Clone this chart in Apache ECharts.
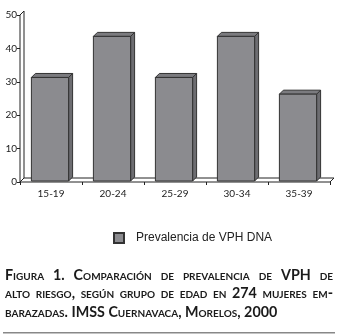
<!DOCTYPE html>
<html>
<head>
<meta charset="utf-8">
<script src="https://cdn.jsdelivr.net/npm/echarts@6/dist/echarts.min.js"></script>
<style>
  html, body { margin: 0; padding: 0; background: #fff; }
  #chart { width: 338px; height: 336px; }
</style>
</head>
<body>
<div id="chart"></div>
<script>
// grupos de edad y prevalencia (%)
const ageGroups = ['15-19', '20-24', '25-29', '30-34', '35-39'];
const prevalence = [31.3, 43.6, 31.3, 43.6, 26.3];
const seriesName = 'Prevalencia de VPH DNA';
const captionLines = [
  'Figura 1. Comparación de prevalencia de VPH de',
  'alto riesgo, según grupo de edad en 274 mujeres em-',
  'barazadas. IMSS Cuernavaca, Morelos, 2000'
];

const DEPTH = 4;
const FRONT = '#8b8b8f';
const TOP = '#7b7b7f';
const SIDE = '#6d6d71';
const EDGE = '#333';
const CAPTION_FONT = 'small-caps bold 14.3px Lato';

function renderBar(params, api) {
  const top = api.coord([api.value(0), api.value(1)]);
  const base = api.coord([api.value(0), 0]);
  const band = api.size([1, 0])[0];
  const w = band * 0.6;
  const x0 = top[0] - w / 2 - 1;
  const x1 = x0 + w;
  const yT = top[1];
  const yB = base[1] - 1;
  const st = { stroke: EDGE, lineWidth: 1 };
  return {
    type: 'group',
    children: [
      { type: 'polygon', shape: { points: [[x1, yB], [x1 + DEPTH, yB - DEPTH], [x1 + DEPTH, yT - DEPTH], [x1, yT]] },
        style: Object.assign({ fill: SIDE }, st) },
      { type: 'polygon', shape: { points: [[x0, yT], [x0 + DEPTH, yT - DEPTH], [x1 + DEPTH, yT - DEPTH], [x1, yT]] },
        style: Object.assign({ fill: TOP }, st) },
      { type: 'rect', shape: { x: x0, y: yT, width: w, height: yB - yT },
        style: Object.assign({ fill: FRONT }, st) }
    ]
  };
}

// piso y pared del grafico 3D
function renderFrame(params, api) {
  const cs = params.coordSys;
  const xl = cs.x, xr = cs.x + cs.width;
  const yt = cs.y, yb = cs.y + cs.height;
  return {
    type: 'group',
    silent: true,
    children: [
      { type: 'polygon', shape: { points: [[xl, yb], [xr, yb], [xr + DEPTH, yb - DEPTH], [xl + DEPTH, yb - DEPTH]] },
        style: { fill: '#fff', stroke: '#222', lineWidth: 1 } },
      { type: 'polygon', shape: { points: [[xl, yb], [xl, yt], [xl + DEPTH, yt - DEPTH], [xl + DEPTH, yb - DEPTH]] },
        style: { fill: '#fff', stroke: '#222', lineWidth: 1 } }
    ]
  };
}

// pie de figura justificado (palabra por palabra)
const measureCtx = document.createElement('canvas').getContext('2d');
measureCtx.font = CAPTION_FONT;
function captionGraphics() {
  const left = 5, right = 333, lineH = 18.5, top0 = 268;
  const out = [];
  captionLines.forEach((line, li) => {
    const words = line.split(' ');
    const widths = words.map(w => measureCtx.measureText(w).width);
    const total = widths.reduce((a, b) => a + b, 0);
    const justify = li < captionLines.length - 1;
    const gap = justify ? (right - left - total) / (words.length - 1) : measureCtx.measureText(' ').width;
    let x = left;
    words.forEach((w, wi) => {
      out.push({
        type: 'text',
        x: x,
        y: top0 + li * lineH,
        style: { text: w, font: CAPTION_FONT, fill: '#1a1a1a' }
      });
      x += widths[wi] + gap;
    });
  });
  return out;
}

const chart = echarts.init(document.getElementById('chart'));

const option = {
  backgroundColor: '#fff',
  animation: false,
  grid: { left: 20, right: 8, top: 15, bottom: 154 },
  legend: {
    left: 108,
    top: 227,
    itemWidth: 10,
    itemHeight: 10,
    icon: 'rect',
    data: [seriesName],
    textStyle: { fontFamily: 'Liberation Sans', fontSize: 12, color: '#222', padding: [0, 0, 0, 7] }
  },
  xAxis: {
    type: 'category',
    data: ageGroups,
    axisLine: { show: false },
    axisTick: { show: true, length: 3, lineStyle: { color: '#222' } },
    axisLabel: { fontFamily: 'Lato', fontSize: 10, color: '#222', margin: 7 }
  },
  yAxis: {
    type: 'value',
    min: 0,
    max: 50,
    interval: 10,
    splitLine: { show: false },
    axisLine: { show: false },
    axisTick: { show: true, length: 3, lineStyle: { color: '#222' } },
    axisLabel: { fontFamily: 'Lato', fontSize: 10, color: '#222', margin: 3 }
  },
  series: [
    {
      type: 'custom',
      name: 'frame',
      renderItem: renderFrame,
      data: [[0, 0]],
      z: 1,
      silent: true
    },
    {
      type: 'custom',
      name: seriesName,
      renderItem: renderBar,
      itemStyle: { color: FRONT, borderColor: EDGE, borderWidth: 1 },
      data: prevalence.map((v, i) => [i, v]),
      z: 2
    }
  ],
  graphic: [
    ...captionGraphics(),
    {
      type: 'rect',
      left: 3,
      top: 332,
      shape: { width: 332, height: 1.5 },
      style: { fill: '#888' }
    }
  ]
};

chart.setOption(option);
</script>
</body>
</html>
